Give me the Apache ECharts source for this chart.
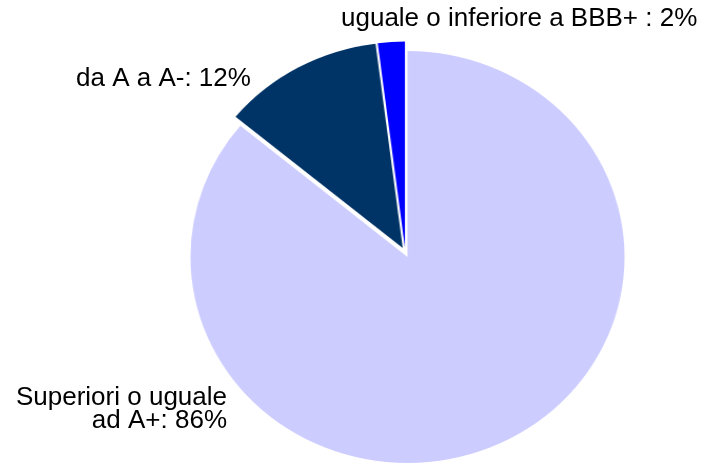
<!DOCTYPE html>
<html>
<head>
<meta charset="utf-8">
<script src="https://cdn.jsdelivr.net/npm/echarts@6/dist/echarts.min.js"></script>
<style>
  html, body { margin: 0; padding: 0; background: #fff; }
  #wrap { position: relative; width: 707px; height: 465px; overflow: hidden; }
  /* The pie is drawn as a slightly wide ellipse: the pie layer is stretched horizontally,
     while the labels sit on an unstretched layer above it. */
  #pie { position: absolute; left: 0; top: 0; width: 707px; height: 465px;
         transform: scaleX(1.0534); transform-origin: 407.5px 0; }
  #labels { position: absolute; left: 0; top: 0; width: 707px; height: 465px; }
</style>
</head>
<body>
<div id="wrap">
  <div id="pie"></div>
  <div id="labels"></div>
</div>
<script>
// Rating breakdown (percent of portfolio)
const categories = ['Superiori o uguale\nad A+', 'da A a A-', 'uguale o inferiore a BBB+ '];
const values = [86, 12, 2];
const colors = ['#CCCCFF', '#003366', '#0000FF'];

const pieChart = echarts.init(document.getElementById('pie'), null, { renderer: 'canvas' });
pieChart.setOption({
  animation: false,
  series: [{
    type: 'pie',
    center: [405.37, 252.5],
    radius: 206,
    startAngle: 90,
    clockwise: true,
    // every slice is pulled slightly out from the centre
    selectedMode: 'multiple',
    selectedOffset: 5,
    label: { show: false },
    labelLine: { show: false },
    emphasis: { disabled: true },
    data: categories.map((name, i) => ({
      name: name,
      value: values[i],
      selected: true,
      itemStyle: { color: colors[i], borderWidth: 0 },
      select: { itemStyle: { color: colors[i], borderWidth: 0 } }
    }))
  }]
});

// Label text built from the same values as the slices
const labelText = categories.map((name, i) => name + ': ' + values[i] + '%');
const labelFont = '26px "Liberation Sans", Arial, sans-serif';
const labelPlacement = [
  { x: 227, y: 409.5, align: 'right' },
  { x: 76, y: 79, align: 'left' },
  { x: 341, y: 19, align: 'left' }
];

const labelChart = echarts.init(document.getElementById('labels'), null, { renderer: 'canvas' });
labelChart.setOption({
  animation: false,
  graphic: labelText.map((t, i) => ({
    type: 'text',
    silent: true,
    style: {
      text: t,
      x: labelPlacement[i].x,
      y: labelPlacement[i].y,
      font: labelFont,
      lineHeight: 23,
      fill: '#000000',
      textAlign: labelPlacement[i].align,
      textVerticalAlign: 'middle'
    }
  }))
});
</script>
</body>
</html>
